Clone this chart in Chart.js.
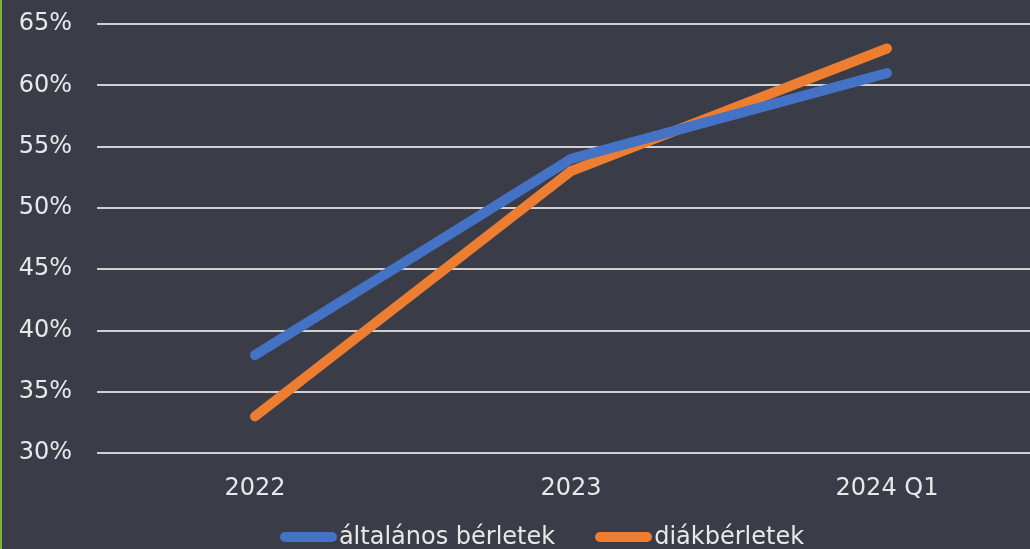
<!DOCTYPE html>
<html>
<head>
<meta charset="utf-8">
<script src="https://cdn.jsdelivr.net/npm/chart.js@4/dist/chart.umd.min.js"></script>
<style>
  html, body { margin: 0; padding: 0; background: #3a3d48; overflow: hidden; }
  .wrap { position: relative; width: 1082px; height: 549px; border-left: 2px solid #7cb342; box-sizing: border-box; }
  .legend { position: absolute; left: 0; right: 0; top: 522px; display: flex; justify-content: center; gap: 40px;
            font-family: 'DejaVu Sans'; font-size: 24px; line-height: 29px; color: #e8e8e8; }
  .legend .item { display: flex; align-items: center; gap: 2px; }
  .legend .swatch { display: inline-block; width: 57px; height: 10px; border-radius: 5px; }
</style>
</head>
<body>
<div class="wrap"><canvas id="chart"></canvas><div class="legend" id="legend"></div></div>
<script>
const categories = ['2022', '2023', '2024 Q1'];
const altalanos = [38, 54, 61];
const diak = [33, 53, 63];
const seriesNames = ['általános bérletek', 'diákbérletek'];
const colors = ['#4472c4', '#ed7d31'];

const canvas = document.getElementById('chart');
const chart = new Chart(canvas, {
    type: 'line',
    data: {
        labels: categories,
        datasets: [{
            label: seriesNames[0],
            data: altalanos,
            borderColor: colors[0],
            backgroundColor: colors[0],
            borderWidth: 10,
            borderCapStyle: 'round',
            borderJoinStyle: 'round',
            pointRadius: 0,
            tension: 0
        }, {
            label: seriesNames[1],
            data: diak,
            borderColor: colors[1],
            backgroundColor: colors[1],
            borderWidth: 10,
            borderCapStyle: 'round',
            borderJoinStyle: 'round',
            pointRadius: 0,
            tension: 0
        }]
    },
    options: {
        responsive: true,
        maintainAspectRatio: false,
        animation: false,
        layout: { padding: { left: 0, right: 37, top: 24, bottom: 33 } },
        scales: {
            x: {
                offset: true,
                grid: { display: false },
                border: { display: false },
                ticks: { color: '#e8e8e8', font: { family: 'DejaVu Sans', size: 24 }, padding: 13 }
            },
            y: {
                min: 30,
                max: 65,
                afterFit: s => { s.width = 95; s.paddingTop = 0; s.paddingBottom = 0; },
                ticks: {
                    stepSize: 5,
                    color: '#e8e8e8',
                    font: { family: 'DejaVu Sans', size: 24 },
                    padding: 25,
                    callback: v => v + '%'
                },
                grid: { color: '#d0d0d0', lineWidth: 2, drawTicks: false },
                border: { display: false }
            }
        },
        plugins: {
            legend: { display: false },
            tooltip: { enabled: false }
        }
    }
});

// legend below the chart, built from the datasets
const legendBox = document.getElementById('legend');
chart.data.datasets.forEach(ds => {
    const item = document.createElement('div');
    item.className = 'item';
    const sw = document.createElement('span');
    sw.className = 'swatch';
    sw.style.background = ds.borderColor;
    const txt = document.createElement('span');
    txt.textContent = ds.label;
    item.appendChild(sw);
    item.appendChild(txt);
    legendBox.appendChild(item);
});
</script>
</body>
</html>
